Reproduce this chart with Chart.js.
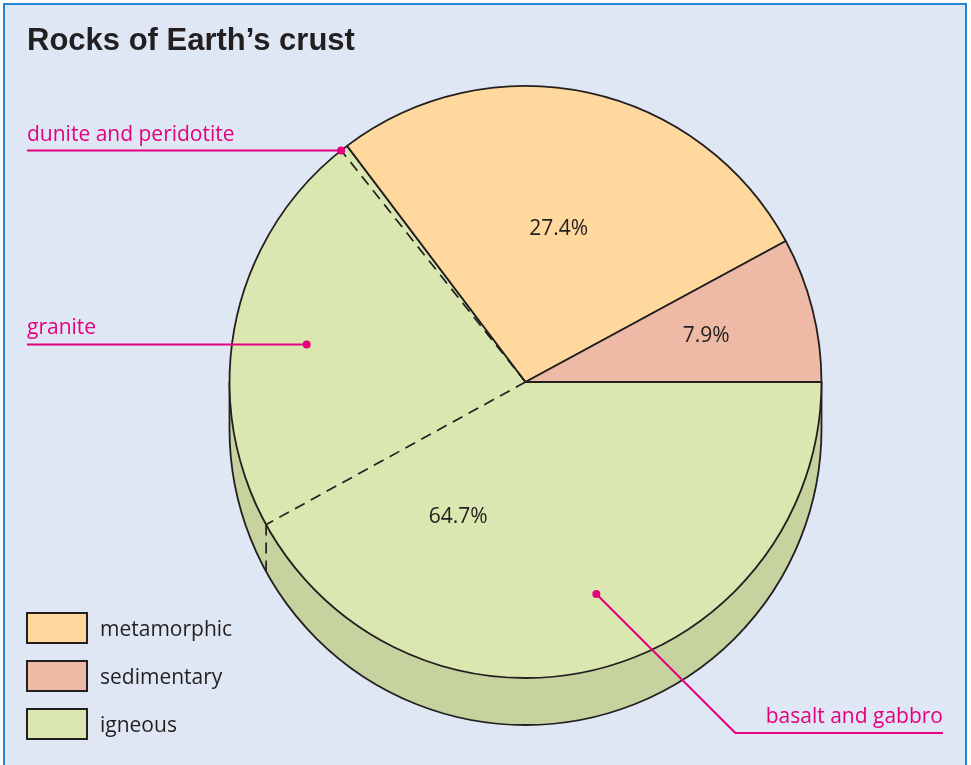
<!DOCTYPE html>
<html>
<head>
<meta charset="utf-8">
<script src="https://cdn.jsdelivr.net/npm/chart.js@4.4.1/dist/chart.umd.min.js"></script>
<style>
  html, body { margin: 0; padding: 0; background: #ffffff; }
  #wrap { position: absolute; left: 0; top: 0; width: 971px; height: 765px; }
  canvas { display: block; }
</style>
</head>
<body>
<div id="wrap"><canvas id="c" width="971" height="765"></canvas></div>
<script>
// ---- data ----
const chartTitle = 'Rocks of Earth’s crust';
const categories = ['igneous', 'metamorphic', 'sedimentary'];
const values = [64.7, 27.4, 7.9];
const legendOrder = ['metamorphic', 'sedimentary', 'igneous'];
// sub-divisions of the igneous slice (estimated shares, in %)
const igneousParts = ['basalt and gabbro', 'granite', 'dunite and peridotite'];
const igneousPartValues = [42.0, 22.3, 0.4];

// ---- style ----
const colors = { igneous: '#dae7b0', metamorphic: '#fed89d', sedimentary: '#efbaa5' };
const sideColor = '#c6d39e';
const ink = '#231f20';
const magenta = '#e5007d';
const bgColor = '#dfe7f4';
const frameColor = '#1f86cf';
const depth = 47;
const pctRadial = { igneous: 0.51, metamorphic: 0.53, sedimentary: 0.63 };

const TAU = Math.PI * 2;

const framePlugin = {
  id: 'frame',
  beforeDraw(chart) {
    const ctx = chart.ctx;
    ctx.save();
    ctx.fillStyle = '#ffffff';
    ctx.fillRect(0, 0, chart.width, chart.height);
    ctx.fillStyle = bgColor;
    ctx.fillRect(4, 4, 962, chart.height);
    ctx.strokeStyle = frameColor;
    ctx.lineWidth = 2;
    ctx.beginPath();
    ctx.moveTo(4, chart.height + 5);
    ctx.lineTo(4, 4);
    ctx.lineTo(966, 4);
    ctx.lineTo(966, chart.height + 5);
    ctx.stroke();
    // title
    ctx.fillStyle = ink;
    ctx.font = 'bold 31px "Liberation Sans", Arial, sans-serif';
    ctx.textAlign = 'left';
    ctx.textBaseline = 'alphabetic';
    ctx.fillText(chartTitle, 27, 50);
    ctx.restore();
  }
};

const sidePlugin = {
  id: 'side',
  beforeDatasetsDraw(chart) {
    const arc = chart.getDatasetMeta(0).data[0];
    const cx = arc.x, cy = arc.y, r = arc.outerRadius;
    const ctx = chart.ctx;
    ctx.save();
    ctx.beginPath();
    ctx.moveTo(cx + r, cy);
    ctx.lineTo(cx + r, cy + depth);
    ctx.arc(cx, cy + depth, r, 0, Math.PI, false);
    ctx.lineTo(cx - r, cy);
    ctx.closePath();
    ctx.fillStyle = sideColor;
    ctx.fill();
    ctx.beginPath();
    ctx.moveTo(cx + r, cy);
    ctx.lineTo(cx + r, cy + depth);
    ctx.arc(cx, cy + depth, r, 0, Math.PI, false);
    ctx.lineTo(cx - r, cy);
    ctx.strokeStyle = ink;
    ctx.lineWidth = 1.8;
    ctx.stroke();
    ctx.restore();
  }
};

const overlayPlugin = {
  id: 'overlay',
  afterDatasetsDraw(chart) {
    const meta = chart.getDatasetMeta(0);
    const ign = meta.data[0];
    const cx = ign.x, cy = ign.y, r = ign.outerRadius;
    const ctx = chart.ctx;
    const pt = (a, rad) => [cx + rad * Math.cos(a), cy + rad * Math.sin(a)];
    ctx.save();

    // igneous sub-division boundaries
    const total = values.reduce((s, v) => s + v, 0);
    const bounds = [];
    let acc = ign.startAngle;
    igneousPartValues.forEach(v => { const a0 = acc; acc += v / total * TAU; bounds.push([a0, acc]); });
    ctx.strokeStyle = ink;
    ctx.lineWidth = 1.7;
    ctx.setLineDash([11, 7]);
    // basalt / granite boundary
    const aBG = bounds[0][1];
    const pBG = pt(aBG, r);
    ctx.beginPath();
    ctx.moveTo(cx, cy);
    ctx.lineTo(pBG[0], pBG[1]);
    ctx.stroke();
    ctx.beginPath();
    ctx.moveTo(pBG[0], pBG[1]);
    ctx.lineTo(pBG[0], pBG[1] + depth);
    ctx.stroke();
    // granite / dunite boundary
    const aGD = bounds[1][1];
    const pGD = pt(aGD, r - 1);
    ctx.beginPath();
    ctx.moveTo(cx, cy);
    ctx.lineTo(pGD[0], pGD[1]);
    ctx.stroke();
    ctx.setLineDash([]);

    // percent labels
    ctx.fillStyle = ink;
    ctx.font = '21px "Open Sans", sans-serif';
    ctx.textAlign = 'center';
    ctx.textBaseline = 'middle';
    meta.data.forEach((el, i) => {
      const mid = (el.startAngle + el.endAngle) / 2;
      const p = pt(mid, r * pctRadial[categories[i]]);
      ctx.fillText(values[i].toFixed(1) + '%', p[0], p[1]);
    });

    // annotations
    ctx.strokeStyle = magenta;
    ctx.fillStyle = magenta;
    ctx.lineWidth = 2;
    ctx.textBaseline = 'alphabetic';
    const dot = (p) => { ctx.beginPath(); ctx.arc(p[0], p[1], 4, 0, TAU); ctx.fill(); };

    // dunite and peridotite (at the sliver on the rim)
    const pD = pt(bounds[2][0], r);
    ctx.beginPath(); ctx.moveTo(27, pD[1]); ctx.lineTo(pD[0], pD[1]); ctx.stroke();
    dot(pD);
    ctx.textAlign = 'left';
    ctx.fillText(igneousParts[2], 27, pD[1] - 9);

    // granite
    const gA = bounds[1][0] + 0.48 * (bounds[1][1] - bounds[1][0]);
    const pG = pt(gA, r * 0.75);
    ctx.beginPath(); ctx.moveTo(27, pG[1]); ctx.lineTo(pG[0], pG[1]); ctx.stroke();
    dot(pG);
    ctx.fillText(igneousParts[1], 27, pG[1] - 10);

    // basalt and gabbro
    const bA = bounds[0][0] + 0.473 * (bounds[0][1] - bounds[0][0]);
    const pB = pt(bA, r * 0.755);
    const lineY = 733;
    const elbowX = pB[0] + (lineY - pB[1]);
    ctx.beginPath(); ctx.moveTo(pB[0], pB[1]); ctx.lineTo(elbowX, lineY); ctx.lineTo(943, lineY); ctx.stroke();
    dot(pB);
    ctx.textAlign = 'right';
    ctx.fillText(igneousParts[0], 943, lineY - 10);

    // legend
    ctx.textAlign = 'left';
    ctx.textBaseline = 'alphabetic';
    ctx.font = '21px "Open Sans", sans-serif';
    legendOrder.forEach((name, i) => {
      const y = 613 + i * 48;
      ctx.fillStyle = colors[name];
      ctx.fillRect(27, y, 60, 30);
      ctx.strokeStyle = ink;
      ctx.lineWidth = 2;
      ctx.strokeRect(27, y, 60, 30);
      ctx.fillStyle = ink;
      ctx.fillText(name, 100, y + 23);
    });
    ctx.restore();
  }
};

new Chart(document.getElementById('c'), {
  type: 'pie',
  data: {
    labels: categories,
    datasets: [{
      data: values,
      backgroundColor: categories.map(c => colors[c]),
      borderColor: ink,
      borderWidth: 1.8,
      hoverOffset: 0
    }]
  },
  options: {
    responsive: false,
    devicePixelRatio: 1,
    animation: false,
    events: [],
    rotation: 90,
    radius: 296,
    layout: { padding: { left: 80, right: 0, top: 0, bottom: 1 } },
    plugins: { legend: { display: false }, tooltip: { enabled: false }, title: { display: false } }
  },
  plugins: [framePlugin, sidePlugin, overlayPlugin]
});
</script>
</body>
</html>
